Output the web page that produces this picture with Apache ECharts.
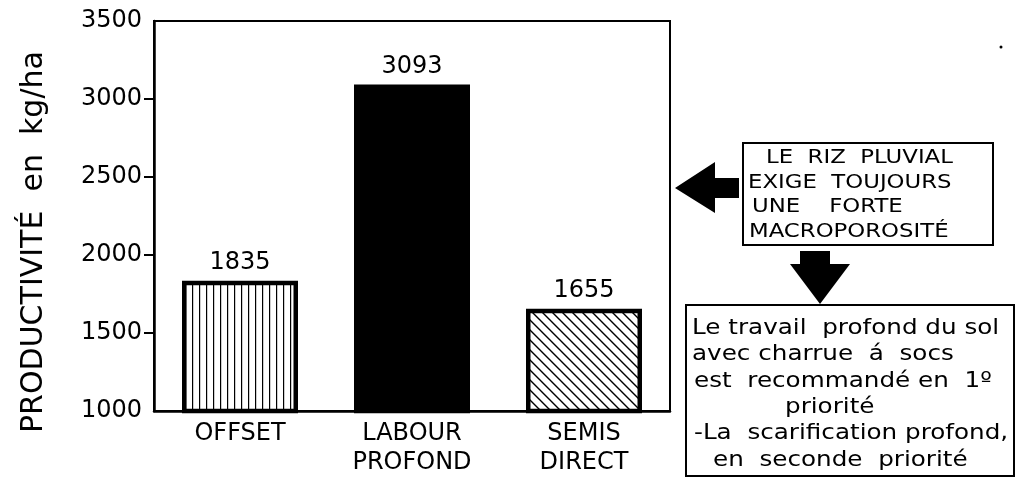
<!DOCTYPE html>
<html>
<head>
<meta charset="utf-8">
<script src="https://cdn.jsdelivr.net/npm/echarts@6/dist/echarts.min.js"></script>
<style>
  html, body { margin: 0; padding: 0; background: #fff; }
  #chart { width: 1019px; height: 483px; }
</style>
</head>
<body>
<div id="chart"></div>
<script>
// Rice yield by soil tillage method
const categories = [['OFFSET'], ['LABOUR', 'PROFOND'], ['SEMIS', 'DIRECT']];
const yieldValues = [1835, 3093, 1655];
const yTicks = [1000, 1500, 2000, 2500, 3000, 3500];
const yTitle = 'PRODUCTIVITÉ  en  kg/ha';
const noteTop = ['LE  RIZ  PLUVIAL', 'EXIGE  TOUJOURS', 'UNE    FORTE', 'MACROPOROSITÉ'];
const noteBottom = [
  'Le travail  profond du sol',
  'avec charrue  á  socs',
  'est  recommandé en  1º',
  'priorité',
  '-La  scarification profond,',
  'en  seconde  priorité'
];

const FONT = '"DejaVu Sans", sans-serif';

// Fill patterns for the hatched bars
function verticalHatch() {
  const c = document.createElement('canvas');
  c.width = 7; c.height = 8;
  const g = c.getContext('2d');
  g.fillStyle = '#fff'; g.fillRect(0, 0, 7, 8);
  g.fillStyle = '#000'; g.fillRect(3, 0, 1.2, 8);
  return c;
}
function diagonalHatch() {
  const c = document.createElement('canvas');
  c.width = 10; c.height = 10;
  const g = c.getContext('2d');
  g.fillStyle = '#fff'; g.fillRect(0, 0, 10, 10);
  g.strokeStyle = '#000'; g.lineWidth = 1.4;
  g.beginPath();
  g.moveTo(-2, -2); g.lineTo(12, 12);
  g.moveTo(-12, -2); g.lineTo(2, 12);
  g.moveTo(8, -2); g.lineTo(22, 12);
  g.stroke();
  return c;
}
const fills = [
  { image: verticalHatch(), repeat: 'repeat' },
  '#000',
  { image: diagonalHatch(), repeat: 'repeat' }
];

const chart = echarts.init(document.getElementById('chart'), null, { renderer: 'canvas' });

const graphics = [];
// Axis title, read bottom to top
graphics.push({
  type: 'text', x: 19, y: 433, rotation: Math.PI / 2,
  style: { text: yTitle, font: '30px ' + FONT, fill: '#000' }
});
// Left-pointing arrow
graphics.push({
  type: 'polygon',
  shape: { points: [[675, 188], [715, 162], [715, 178], [739, 178], [739, 198], [715, 198], [715, 213]] },
  style: { fill: '#000' }
});
// First note box
graphics.push({
  type: 'rect', shape: { x: 743, y: 143, width: 250, height: 102 },
  style: { fill: '#fff', stroke: '#000', lineWidth: 2 }
});
const topX = [766, 748, 752, 749];
noteTop.forEach((t, i) => graphics.push({
  type: 'text', x: topX[i], y: 158 + i * 24.7, scaleX: 1.2,
  style: { text: t, font: '19px ' + FONT, fill: '#000', textVerticalAlign: 'middle' }
}));
// Downward arrow
graphics.push({
  type: 'polygon',
  shape: { points: [[800, 251], [830, 251], [830, 264], [850, 264], [820, 304], [790, 264], [800, 264]] },
  style: { fill: '#000' }
});
// Second note box
graphics.push({
  type: 'rect', shape: { x: 686, y: 305, width: 328, height: 171 },
  style: { fill: '#fff', stroke: '#000', lineWidth: 2 }
});
const botX = [692, 692, 694, 785, 694, 713];
noteBottom.forEach((t, i) => graphics.push({
  type: 'text', x: botX[i], y: 328 + i * 26.4, scaleX: 1.12,
  style: { text: t, font: '22px ' + FONT, fill: '#000', textVerticalAlign: 'middle' }
}));
// Small dot near the top right corner
graphics.push({ type: 'circle', shape: { cx: 1001, cy: 47, r: 1.5 }, style: { fill: '#000' } });

chart.setOption({
  animation: false,
  backgroundColor: '#fff',
  grid: {
    left: 154, right: 349, top: 21, bottom: 72,
    show: true, borderColor: '#000', borderWidth: 2, backgroundColor: 'transparent'
  },
  xAxis: {
    type: 'category',
    data: categories.map(c => c.join('\n')),
    axisLine: { lineStyle: { color: '#000', width: 2.5 } },
    axisTick: { show: false },
    axisLabel: {
      color: '#000', fontFamily: FONT, fontSize: 24, lineHeight: 29, margin: 8
    }
  },
  yAxis: {
    type: 'value',
    min: yTicks[0], max: yTicks[yTicks.length - 1], interval: 500,
    splitLine: { show: false },
    axisLine: { show: true, lineStyle: { color: '#000', width: 2.5 } },
    axisTick: {
      show: true, length: 10, lineStyle: { color: '#000', width: 2 },
      customValues: yTicks.slice(1, -1)
    },
    axisLabel: {
      color: '#000', fontFamily: FONT, fontSize: 24, margin: 12,
      formatter: v => String(v)
    }
  },
  series: [{
    type: 'bar',
    barWidth: 116,
    data: yieldValues.map((v, i) => ({
      value: v,
      itemStyle: { color: fills[i], borderColor: '#000', borderWidth: 4.5 }
    })),
    label: {
      show: true, position: 'top', distance: 6,
      color: '#000', fontFamily: FONT, fontSize: 24
    }
  }],
  graphic: graphics
});
</script>
</body>
</html>
